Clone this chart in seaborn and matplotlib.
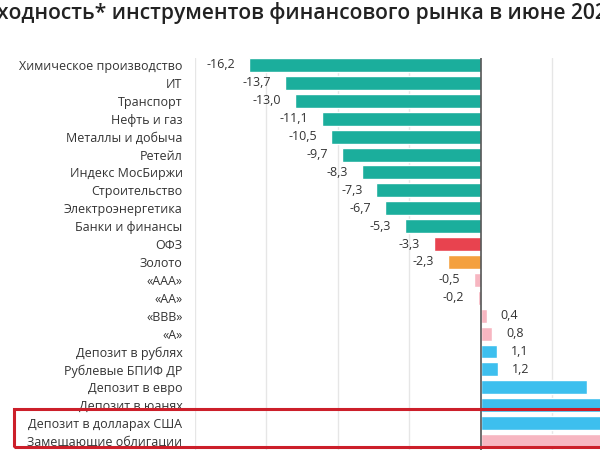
import matplotlib
matplotlib.use('Agg')
import matplotlib.pyplot as plt
import seaborn as sns
import pandas as pd
from matplotlib.patches import Rectangle

categories = ['Химическое производство', 'ИТ', 'Транспорт', 'Нефть и газ', 'Металлы и добыча',
              'Ретейл', 'Индекс МосБиржи', 'Строительство', 'Электроэнергетика', 'Банки и финансы',
              'ОФЗ', 'Золото', '«ААА»', '«АА»', '«ВВВ»', '«А»', 'Депозит в рублях',
              'Рублевые БПИФ ДР', 'Депозит в евро', 'Депозит в юанях', 'Депозит в долларах США',
              'Замещающие облигации']
values = [-16.2, -13.7, -13.0, -11.1, -10.5, -9.7, -8.3, -7.3, -6.7, -5.3, -3.3, -2.3,
          -0.5, -0.2, 0.4, 0.8, 1.1, 1.2, 7.4, 10.5, 11.5, 13.0]
groups = ['акции'] * 10 + ['ОФЗ', 'золото'] + ['корп'] * 4 + ['депозит'] * 5 + ['замещ']

group_colors = {'акции': '#1bae9c', 'ОФЗ': '#e8434f', 'золото': '#f4a03e',
                'корп': '#f7b6c1', 'депозит': '#3dbfee', 'замещ': '#f7b6c1'}

df = pd.DataFrame({'cat': categories, 'val': values, 'grp': groups})

sns.set_style('white')
plt.rcParams['font.family'] = ['Open Sans', 'DejaVu Sans']

fig = plt.figure(figsize=(6, 4.5), dpi=100)
W, H = 600, 450
# plot area in pixels: x from 195 to 600, y from 58 to 450
ax = fig.add_axes([195 / W, 0, 405 / W, 392 / H])

sns.barplot(data=df, x='val', y='cat', hue='grp', palette=group_colors, dodge=False,
            legend=False, width=0.78, saturation=1, orient='h', ax=ax)

ax.set_xlim(-20, 8.34)
ax.set_ylim(21.5, -0.39)
ax.set_xticks([-20, -15, -10, -5, 5])
ax.grid(axis='x', color='#e6e6e6', linewidth=1)
ax.set_axisbelow(True)
ax.axvline(0, color='#555555', linewidth=1.2, zorder=3)
for s in ax.spines.values():
    s.set_visible(False)
ax.set_xlabel('')
ax.set_ylabel('')
ax.tick_params(axis='x', labelbottom=False, length=0)
ax.tick_params(axis='y', length=0, pad=9, labelsize=9, labelcolor='#333333')

for i, v in enumerate(values):
    lab = f'{v:.1f}'.replace('.', ',')
    if v < 0:
        ax.annotate(lab, (v, i), xytext=(-10, 0), textcoords='offset points',
                    ha='right', va='center', fontsize=9, color='#333333')
    else:
        ax.annotate(lab, (v, i), xytext=(10, 0), textcoords='offset points',
                    ha='left', va='center', fontsize=9, color='#333333')

fig.text(-31 / W, 1 - 13 / H, 'Доходность* инструментов финансового рынка в июне 2022',
         ha='left', va='center', fontsize=15.1, fontweight='semibold', color='#222222')

fig.patches.append(Rectangle((14 / W, 3 / H), 620 / W, 38 / H, transform=fig.transFigure,
                             fill=False, edgecolor='#cc1f2a', linewidth=2.2, zorder=10))

fig.savefig('out.png', dpi=100)
